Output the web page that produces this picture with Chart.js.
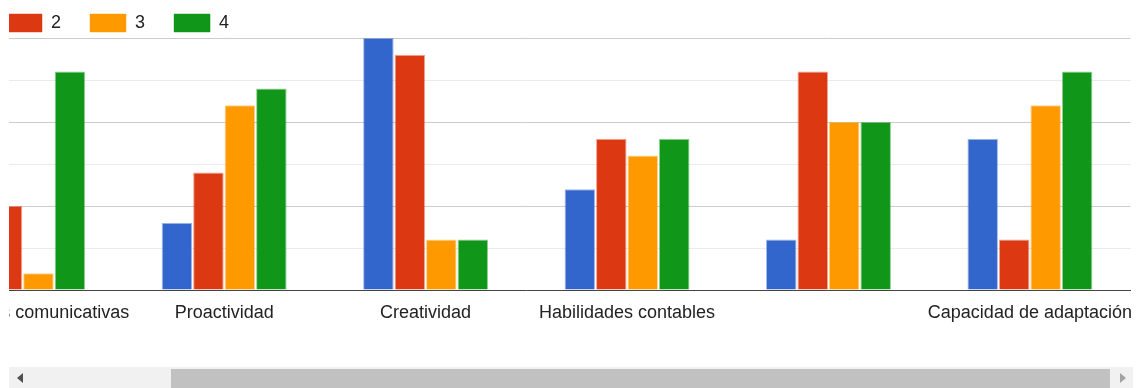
<!DOCTYPE html>
<html>
<head>
<meta charset="utf-8">
<script src="https://cdn.jsdelivr.net/npm/chart.js@4.4.1/dist/chart.umd.min.js"></script>
<style>
  html, body { margin: 0; padding: 0; background: #fff; width: 1140px; height: 388px; overflow: hidden; }
  /* visible window of the wide, horizontally scrolled chart */
  #viewport { position: absolute; left: 9px; top: 0; width: 1124px; height: 366px; overflow: hidden; }
  #plot { position: absolute; left: -116px; top: -15px; width: 1251px; height: 355px; }
  /* horizontal scrollbar under the chart */
  #track { position: absolute; left: 9px; top: 367px; width: 1124px; height: 21px; background: #f1f1f1; }
  #thumb { position: absolute; left: 162px; top: 2px; width: 939px; height: 19px; background: #c1c1c1; }
  .arrow { position: absolute; top: 6px; width: 0; height: 0; border-top: 5px solid transparent; border-bottom: 5px solid transparent; }
  #arrowLeft { left: 8px; border-right: 6px solid #505050; }
  #arrowRight { left: 1111px; border-left: 6px solid #a3a3a3; }
</style>
</head>
<body>
<div id="viewport"><div id="plot"><canvas id="chart"></canvas></div></div>
<div id="track"><div id="thumb"></div><div class="arrow" id="arrowLeft"></div><div class="arrow" id="arrowRight"></div></div>
<script>
const categories = [
  "Habilidades comunicativas",
  "Proactividad",
  "Creatividad",
  "Habilidades contables",
  "",
  "Capacidad de adaptación"
];
const seriesNames = ["1", "2", "3", "4"];
const values1 = [14, 4, 15, 6, 3, 9];
const values2 = [5, 7, 14, 9, 13, 3];
const values3 = [1, 11, 3, 8, 10, 11];
const values4 = [13, 12, 3, 9, 10, 13];
const yTicks = [0, 2.5, 5, 7.5, 10, 12.5, 15];

const colors = ["#3366cc", "#dc3912", "#ff9900", "#109618"];
const edges = ["rgba(51,102,204,0.45)", "rgba(220,57,18,0.45)", "rgba(255,153,0,0.45)", "rgba(16,150,24,0.45)"];
const series = [values1, values2, values3, values4];

Chart.defaults.font.family = '"Liberation Sans", Arial, sans-serif';
Chart.defaults.color = "#222222";

new Chart(document.getElementById("chart"), {
  type: "bar",
  data: {
    labels: categories,
    datasets: series.map((vals, i) => ({
      label: seriesNames[i],
      data: vals,
      backgroundColor: colors[i],
      borderColor: edges[i],
      borderWidth: 1,
      categoryPercentage: 0.625,
      barPercentage: 0.97
    }))
  },
  options: {
    responsive: true,
    maintainAspectRatio: false,
    animation: false,
    layout: { padding: 0, autoPadding: false },
    plugins: {
      tooltip: { enabled: false },
      legend: {
        display: true,
        position: "top",
        align: "start",
        maxHeight: 53,
        labels: {
          boxWidth: 36,
          boxHeight: 18,
          padding: 29,
          color: "#222222",
          font: { size: 18 }
        }
      }
    },
    scales: {
      x: {
        grid: { display: false, drawTicks: false },
        border: { display: true, color: "#444444", width: 1, z: 1 },
        ticks: {
          autoSkip: false,
          maxRotation: 0,
          minRotation: 0,
          padding: 12,
          color: "#222222",
          font: { size: 18 }
        },
        afterFit(scale) { scale.height = 50; }
      },
      y: {
        min: 0,
        max: 15,
        afterBuildTicks(scale) { scale.ticks = yTicks.map(v => ({ value: v })); },
        ticks: { display: false },
        border: { display: false },
        grid: {
          drawTicks: false,
          color: ctx => (ctx.tick && ctx.tick.value % 5 === 0) ? "#cccccc" : "#ebebeb"
        },
        afterFit(scale) { scale.width = 29; }
      }
    }
  }
});
</script>
</body>
</html>
